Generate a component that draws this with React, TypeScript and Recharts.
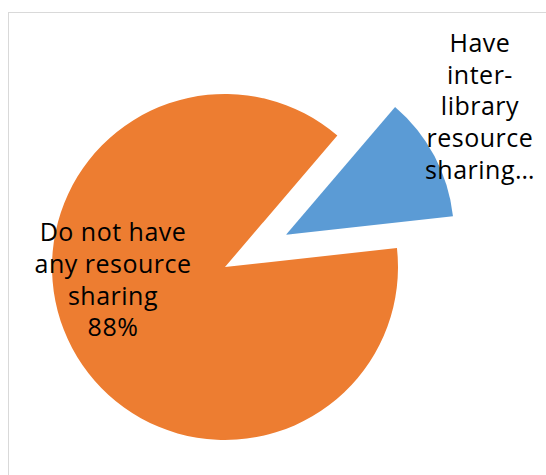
import { PieChart, Pie, Cell } from 'recharts';

// datos del gráfico
const CATEGORIAS = ['Have inter-library resource sharing', 'Do not have any resource sharing'];
const VALORES = [12, 88];
const ETIQUETAS = [
    ['Have', 'inter-', 'library', 'resource', 'sharing…'],
    ['Do not have', 'any resource', 'sharing'],
];
const COLORES = ['#5B9BD5', '#ED7D31'];

// geometría
const ANCHO = 545;
const ALTO = 470;
const CX = 216;
const CY = 254;
const INICIO = 6.3;
const SEPARACION = 69;
const RADIOS = [168, 173];
// desplazamiento de la primera línea de cada etiqueta respecto al centro de su porción
const POS_ETIQUETA = [
    { dx: 194, dy: -193 },
    { dx: -112, dy: -36 },
];
const INTERLINEA = 31.8;

const datos = CATEGORIAS.map((nombre, i) => ({ nombre, valor: VALORES[i] }));
const total = VALORES.reduce((a, b) => a + b, 0);

// centro de la porción separada, según su ángulo medio
const medio = INICIO + (VALORES[0] / total) * 180;
const rad = (medio * Math.PI) / 180;
const centros = [
    { x: CX + SEPARACION * Math.cos(rad), y: CY - SEPARACION * Math.sin(rad) },
    { x: CX, y: CY },
];

function etiqueta(visible: number) {
    return (props: any) => {
        if (props.index !== visible) return <g />;
        const lineas = [...ETIQUETAS[visible]];
        if (visible === 1) lineas.push(`${Math.round((props.percent ?? VALORES[1] / total) * 100)}%`);
        const x = centros[visible].x + POS_ETIQUETA[visible].dx;
        const y0 = centros[visible].y + POS_ETIQUETA[visible].dy;
        return (
            <text textAnchor="middle" dominantBaseline="central" fill="#000" fontSize={25} letterSpacing={0.5} fontFamily="'Open Sans', 'Noto Sans', sans-serif">
                {lineas.map((l, i) => (
                    <tspan key={i} x={x} y={y0 + i * INTERLINEA}>{l}</tspan>
                ))}
            </text>
        );
    };
}

export default function App() {
    return (
        <div style={{ position: 'fixed', left: 8, top: 12, width: ANCHO, height: ALTO, borderTop: '1px solid #d9d9d9', borderLeft: '1px solid #d9d9d9', background: '#fff' }}>
            <PieChart width={ANCHO} height={ALTO} margin={{ top: 0, right: 0, bottom: 0, left: 0 }}>
                {[1, 0].map((visible) => (
                    <Pie
                        key={visible}
                        data={datos}
                        dataKey="valor"
                        nameKey="nombre"
                        cx={centros[visible].x}
                        cy={centros[visible].y}
                        outerRadius={RADIOS[visible]}
                        startAngle={INICIO}
                        endAngle={INICIO + 360}
                        isAnimationActive={false}
                        labelLine={false}
                        label={etiqueta(visible)}
                    >
                        {datos.map((_, i) => (
                            <Cell key={i} fill={i === visible ? COLORES[i] : 'transparent'} stroke="none" />
                        ))}
                    </Pie>
                ))}
            </PieChart>
        </div>
    );
}
